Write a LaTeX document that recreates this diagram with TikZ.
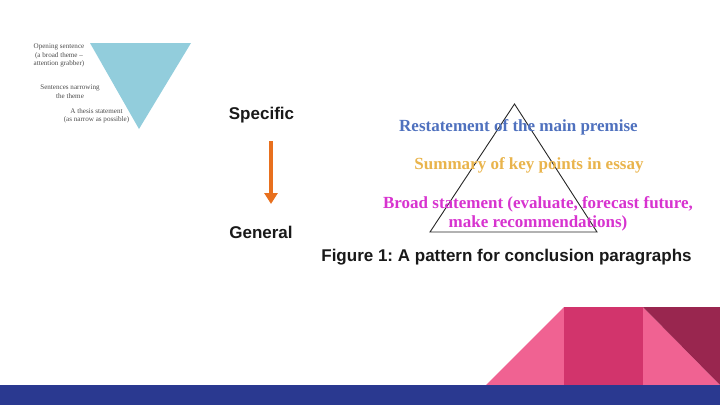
\documentclass[tikz,border=0pt]{standalone}
\usepackage{fontspec}
\setmainfont{Liberation Serif}
\setsansfont{Liberation Sans}
\usetikzlibrary{positioning, arrows.meta}

\definecolor{barblue}{HTML}{2A3990}
\definecolor{rosepink}{HTML}{F06292}
\definecolor{deeppink}{HTML}{D2346C}
\definecolor{maroon}{HTML}{99264F}
\definecolor{funnelblue}{HTML}{92CDDC}
\definecolor{premiseblue}{HTML}{4F71BE}
\definecolor{summaryorange}{HTML}{E9B44C}
\definecolor{broadmagenta}{HTML}{D733CF}
\definecolor{arroworange}{HTML}{E8701E}

\tikzset{
  smallnote/.style={font=\rmfamily\fontsize{7.1}{8.4}\selectfont, text=black!70, align=center, inner sep=0pt},
  sidelabel/.style={font=\sffamily\bfseries\fontsize{17}{19}\selectfont, text=black!90, inner sep=0pt},
  premise/.style={font=\rmfamily\bfseries\fontsize{17}{19}\selectfont, align=center, inner sep=0pt}
}

\begin{document}
\frenchspacing
\begin{tikzpicture}[x=1pt, y=-1pt]
\useasboundingbox (0,0) rectangle (720,405);

% Funnel
\fill[funnelblue] (90,43) -- (191,43) -- (139,129) -- cycle;
\node[smallnote] (opening) at (59,55.5) {Opening sentence\\(a broad theme --\\attention grabber)};
\node[smallnote] (narrowing) at (70,91.5) {Sentences narrowing\\the theme};
\node[smallnote] (thesis) at (96.5,115.5) {A thesis statement\\(as narrow as possible)};

% Specific to general
\node[sidelabel] (specific) at (261.5,115) {Specific};
\node[sidelabel] (general) at (261,232) {General};
\coordinate (arrowtop) at (271,141);
\coordinate (arrowend) at (271,204);
\draw[arroworange, line width=3.5pt, -{Triangle[length=11pt, width=13pt]}] (arrowtop) -- (arrowend);

% Conclusion triangle
\coordinate (apex) at (514.5,104);
\coordinate (baseleft) at (430,232);
\coordinate (baseright) at (597,232);
\draw[black!85, line width=0.9pt] (apex) -- (baseleft) -- (baseright) -- cycle;
\node[premise, text=premiseblue] (restatement) at (518.5,127) {Restatement of the main premise};
\node[premise, text=summaryorange] (summary) at (529,165.5) {Summary of key points in essay};
\node[premise, text=broadmagenta] (broad) at (538,213.5) {Broad statement (evaluate, forecast future,\\make recommendations)};
\node[sidelabel] (caption) at (506.5,257) {Figure 1: A pattern for conclusion paragraphs};

% Corner shapes
\fill[rosepink] (486,385) -- (564,307) -- (564,385) -- cycle;
\fill[deeppink] (564,307) rectangle (643,385);
\fill[rosepink] (643,307) -- (720,385) -- (643,385) -- cycle;
\fill[maroon] (643,307) -- (720,307) -- (720,385) -- cycle;
\fill[barblue] (0,385) rectangle (720,405);

\end{tikzpicture}
\end{document}
